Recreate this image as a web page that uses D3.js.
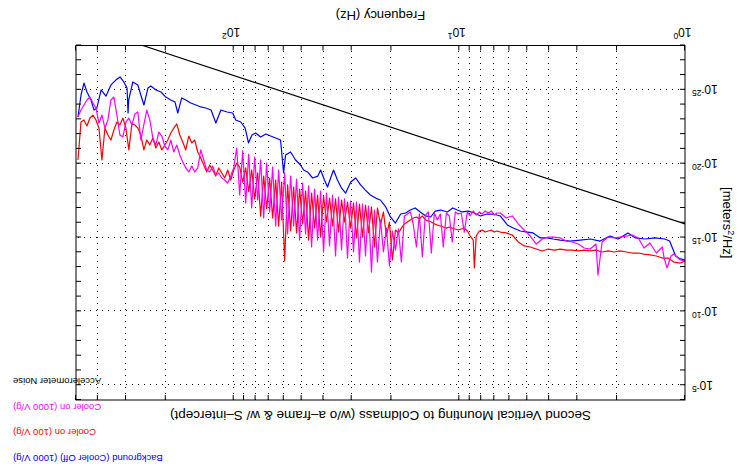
<!DOCTYPE html>
<html>
<head>
<meta charset="utf-8">
<script src="https://cdn.jsdelivr.net/npm/d3@7"></script>
<style>
  body { margin: 0; background: #fff; }
  svg { display: block; font-family: "Liberation Sans", Arial, Helvetica, sans-serif; }
</style>
</head>
<body>
<svg id="chart" width="742" height="470"></svg>
<script>
// values are PSD exponents: PSD = 10^value  [meters^2/Hz]

// Background (Cooler Off) (1000 V/g)
const bgFreq = [490,475,461,447,429,416,404,387,368,350,333,319,307,297,294,292,280,266,258,250,
  240,233,221,210,200,190,182,177,170,163,155,147,140,133,126,120,114,107,101,98,
  93,89,86,83,80,76,72,68.6,65.2,62.0,60.1,58.9,56.0,53.2,50.6,49.0,47.1,44.7,42.4,41.2,
  39.6,38.4,37.2,36.1,34.7,33.3,31.9,30.3,28.8,27.4,26.1,24.8,23.5,22.4,21.2,20.2,19.2,18.2,17.3,16.5,
  15.7,14.9,14.1,13.4,12.8,12.1,11.3,10.7,10.2,9.7,9.12,8.58,8.07,7.52,7.07,6.59,6.13,5.77,5.37,5.00,
  4.71,4.38,4.08,3.84,3.57,3.23,2.91,2.63,2.38,2.15,1.98,1.79,1.66,1.50,1.36,1.23,1.17,1.10,1.05,1.00];
const bgExp = [-23.16,-24.65,-25.46,-24.85,-24.31,-23.63,-23.77,-24.99,-24.58,-25.33,
  -25.66,-25.87,-25.53,-25.12,-23.43,-24.31,-25.53,-25.33,-24.65,-23.97,
  -25.12,-25.26,-24.99,-24.85,-24.51,-24.31,-24.17,-23.43,-24.45,-24.31,
  -24.11,-23.97,-23.84,-23.77,-23.63,-22.75,-23.63,-23.50,-23.43,-22.96,
  -22.82,-22.41,-21.40,-21.94,-22.08,-21.81,-22.01,-21.87,-21.74,-21.60,
  -19.37,-20.59,-20.79,-20.25,-19.91,-19.57,-19.44,-19.03,-19.16,-19.57,
  -18.89,-18.42,-19.03,-19.57,-18.89,-18.35,-18.01,-18.76,-19.03,-18.56,
  -18.21,-17.88,-17.67,-17.54,-17.07,-16.39,-15.98,-16.59,-16.66,-16.86,
  -17.00,-16.73,-16.46,-16.39,-16.79,-16.86,-16.73,-17.00,-16.86,-16.73,
  -16.79,-16.66,-16.46,-16.59,-16.59,-16.46,-15.85,-15.64,-15.44,-15.37,
  -15.31,-14.97,-14.97,-14.90,-14.83,-14.76,-14.83,-14.90,-14.76,-15.10,
  -14.90,-15.31,-14.97,-14.90,-14.97,-14.90,-14.76,-13.75,-13.55,-13.48];

// Cooler on (100 V/g)
const c100Freq = [490.0,475.3,461.0,447.1,433.6,420.6,407.9,395.6,383.7,372.2,361.0,350.1,339.6,329.4,319.5,309.9,
  300.5,291.5,282.7,274.2,266.0,258.0,250.2,242.7,235.4,228.3,221.4,214.7,208.3,202.0,195.9,190.0,184.3,178.8,
  173.4,168.2,163.1,158.2,153.4,148.8,144.3,140.0,135.8,131.7,127.7,123.9,120.2,116.5,113.0,109.6,106.3,103.1,100.0,
  96.99,94.07,91.24,88.49,85.83,83.25,80.74,78.31,75.95,73.67,71.45,69.30,67.21,65.19,63.23,61.33,59.48,57.69,
  55.95,54.27,52.64,51.05,49.52,48.03,46.58,45.18,43.82,42.50,41.22,39.98,38.78,37.61,36.48,35.38,34.32,33.28,
  32.28,31.31,30.37,29.45,28.57,27.71,26.87,26.06,25.28,24.52,23.78,23.07,22.37,21.70,21.05,20.41,19.80,19.20,
  18.63,18.07,17.52,16.99,
  16.48,15.99,15.50,15.04,14.59,14.15,13.72,13.31,12.91,12.52,12.14,11.78,11.42,11.08,10.75,10.42,10.11,9.81,
  9.51,9.22,8.95,8.68,8.58,8.42,8.16,7.92,7.68,7.45,7.22,7.01,6.80,6.59,
  6.20,5.83,5.48,5.16,4.85,4.56,4.29,4.04,3.80,3.57,3.36,3.16,2.97,2.80,2.63,2.48,2.33,2.19,2.06,1.94,
  1.82,1.71,1.61,1.52,1.43,1.34,1.26,1.19,1.12,1.05,1.00];
const c100Exp = [-20.25,-22.82,-22.96,-22.55,-23.09,-23.29,-22.96,-22.41,-20.25,-22.41,
  -21.94,-21.60,-22.28,-22.82,-22.62,-23.09,-22.41,-20.93,-22.69,-22.62,
  -22.41,-21.94,-20.93,-21.60,-21.26,-21.74,-21.06,-21.47,-20.93,-21.26,
  -21.60,-22.08,-22.41,-22.69,-21.94,-21.47,-20.93,-21.87,-21.40,-21.60,
  -20.79,-20.38,-19.91,-19.44,-19.91,-19.57,-19.16,-19.71,-19.37,-19.03,
  -19.57,-18.89,-19.57,
  -20.04,-19.77,-18.75,-19.71,-18.10,-19.57,-17.60,-19.37,-16.45,-19.16,
  -16.95,-19.03,-16.32,-18.89,-15.78,-18.76,-13.41,-18.56,-15.44,-18.42,
  -15.31,-18.28,-15.92,-18.15,-14.83,-18.01,-15.64,-17.88,-15.03,-17.81,
  -16.05,-17.67,-15.78,-17.61,-15.37,-17.54,-16.05,-17.40,-15.64,-17.34,
  -14.97,-17.27,-15.03,-17.20,-15.31,-17.07,-14.36,-17.00,-15.85,-16.73,
  -15.10,-16.05,-13.48,-15.51,-15.31,-15.64,-15.92,-16.05,
  -16.19,-16.32,-16.39,-16.25,-16.46,-16.19,-16.12,-16.05,-15.92,-15.85,
  -15.78,-15.71,-15.64,-15.71,-15.64,-15.58,-15.51,-15.58,-15.64,-15.44,
  -15.10,-14.83,-12.94,-15.10,-15.44,-15.51,-15.37,-15.44,-15.51,-15.37,-15.44,-15.37,
  -15.31,-15.17,-14.70,-14.43,-14.36,-14.22,-14.09,-14.22,-14.15,-14.22,
  -14.15,-14.15,-14.09,-14.15,-14.09,-14.15,-14.02,-14.09,-14.02,-14.09,
  -14.02,-13.95,-13.95,-13.88,-13.82,-13.75,-13.61,-13.61,-13.34,-13.27,-13.41];

// Cooler on (1000 V/g)
const c1000Freq = [490.0,475.3,461.0,447.1,433.6,420.6,407.9,395.6,383.7,372.2,361.0,350.1,339.6,329.4,319.5,309.9,
  300.5,291.5,282.7,274.2,266.0,258.0,250.2,242.7,235.4,228.3,221.4,214.7,208.3,202.0,195.9,190.0,184.3,178.8,
  173.4,168.2,163.1,158.2,153.4,148.8,144.3,140.0,135.8,131.7,127.7,123.9,120.2,116.5,113.0,109.6,106.3,103.1,100.0,
  96.99,94.07,91.24,88.49,85.83,83.25,80.74,78.31,75.95,73.67,71.45,69.30,67.21,65.19,63.23,61.33,59.48,57.69,
  55.95,54.27,52.64,51.05,49.52,48.03,46.58,45.18,43.82,42.50,41.22,39.98,38.78,37.61,36.48,35.38,34.32,33.28,
  32.28,31.31,30.37,29.45,28.57,27.71,26.87,26.06,25.28,24.52,23.78,23.07,22.37,21.70,21.05,20.41,19.80,19.20,
  18.63,18.07,17.52,16.99,
  16.48,15.99,15.50,15.04,14.59,14.15,13.72,13.31,12.91,12.52,12.14,11.78,11.42,11.08,10.75,10.42,10.11,9.81,
  9.51,9.22,8.95,8.68,8.42,8.16,7.92,7.68,7.45,7.22,7.01,6.80,6.59,
  6.20,5.83,5.48,5.16,4.85,4.56,4.29,4.04,3.80,3.57,3.36,3.16,2.97,2.80,2.63,2.48,2.43,
  2.33,2.19,2.06,1.94,1.82,1.71,1.61,1.52,1.43,1.34,1.26,1.238,1.201,1.153,1.12,1.05,1.00];
const c1000Exp = [-23.16,-23.63,-23.97,-24.31,-24.51,-24.11,-23.77,-22.75,-23.29,-22.41,
  -22.96,-24.31,-24.51,-23.29,-21.94,-21.81,-22.82,-23.09,-22.62,-23.36,
  -23.50,-21.60,-22.62,-23.63,-22.96,-21.74,-21.26,-22.14,-21.87,-21.20,
  -20.93,-21.60,-20.79,-21.26,-20.59,-20.11,-19.71,-19.44,-19.84,-19.44,
  -19.71,-20.93,-20.25,-19.57,-19.44,-19.84,-19.23,-19.37,-19.03,-18.89,
  -18.69,-19.16,-19.71,
  -21.06,-17.88,-20.86,-17.34,-20.65,-17.00,-20.45,-17.54,-20.25,-16.32,
  -20.04,-16.73,-19.77,-15.78,-19.57,-16.19,-19.37,-15.24,-19.16,-15.78,
  -18.96,-14.83,-18.69,-15.24,-18.49,-14.36,-18.28,-14.83,-18.15,-14.02,
  -18.01,-14.43,-17.88,-13.75,-17.74,-14.15,-17.61,-13.61,-17.47,-14.02,
  -17.40,-13.34,-17.27,-13.75,-17.13,-12.66,-16.86,-13.34,-16.19,-14.02,
  -15.64,-13.07,-15.44,-14.15,-15.58,-13.34,-16.46,-16.59,
  -16.73,-15.85,-14.36,-16.59,-13.68,-16.52,-16.73,-13.95,-16.66,-16.19,
  -16.59,-14.36,-16.66,-16.46,-14.70,-16.73,-16.59,-16.66,-15.37,-16.73,
  -16.46,-16.80,-16.52,-16.73,-16.59,-16.80,-16.66,-16.80,-16.52,-16.66,-16.66,
  -16.32,-16.46,-15.92,-15.51,-15.10,-14.56,-14.90,-15.03,-15.03,-14.97,
  -14.76,-14.70,-14.56,-14.29,-14.22,-14.56,-12.46,
  -14.70,-15.03,-14.97,-15.03,-15.10,-15.17,-14.97,-14.29,-14.63,-13.95,-14.36,
  -13.61,-12.94,-13.75,-13.88,-13.48,-13.41];

// Accelerometer Noise (straight line in log-log)
const noiseFreq = [1, 253];
const noiseExp = [-15.92, -28.0];

const xTickVals = [1,2,3,4,5,6,7,8,9,10,20,30,40,50,60,70,80,90,100,200,300,400,500];
const xLabelExps = [0, 1, 2];
const yLabelExps = [-25, -20, -15, -10, -5];

const series = [
  {name: "Background (Cooler Off) (1000 V/g)", color: "#0000ff", f: bgFreq, v: bgExp},
  {name: "Cooler on (100 V/g)", color: "#ff0000", f: c100Freq, v: c100Exp},
  {name: "Cooler on (1000 V/g)", color: "#ff00ff", f: c1000Freq, v: c1000Exp},
  {name: "Accelerometer Noise", color: "#000000", f: noiseFreq, v: noiseExp}
];

const plot = {left: 57, right: 666, top: 70, bottom: 424.5};

const x = d3.scaleLog().domain([1, 500]).range([plot.left, plot.right]);
const y = d3.scaleLog().domain([1e-28, 1e-4]).range([plot.bottom, plot.top]);

const svg = d3.select("#chart");
svg.append("defs").append("clipPath").attr("id", "plotClip")
  .append("rect")
    .attr("x", plot.left).attr("y", plot.top)
    .attr("width", plot.right - plot.left).attr("height", plot.bottom - plot.top);

// the whole figure is shown turned upside down
const g = svg.append("g").attr("transform", "rotate(180 371 235)");

// grid
const px = v => Math.round(v) + 0.5;
g.append("g").selectAll("line")
  .data(xTickVals.filter(d => d > 1 && d < 500))
  .join("line")
    .attr("x1", d => px(x(d))).attr("x2", d => px(x(d)))
    .attr("y1", plot.top).attr("y2", plot.bottom)
    .attr("stroke", "#000").attr("stroke-width", 1)
    .attr("stroke-dasharray", "1,5");
g.append("g").selectAll("line")
  .data(yLabelExps)
  .join("line")
    .attr("x1", plot.left).attr("x2", plot.right)
    .attr("y1", d => px(y(10 ** d))).attr("y2", d => px(y(10 ** d)))
    .attr("stroke", "#000").attr("stroke-width", 1)
    .attr("stroke-dasharray", "1,5");

// traces
const line = d3.line().x(d => x(d[0])).y(d => y(10 ** d[1]));
const traces = g.append("g").attr("clip-path", "url(#plotClip)");
series.forEach(s => {
  traces.append("path")
    .datum(s.f.map((f, i) => [f, s.v[i]]))
    .attr("d", line)
    .attr("fill", "none")
    .attr("stroke", s.color)
    .attr("stroke-width", 1.2)
    .attr("stroke-linejoin", "round");
});

// axes (ticks inward on all sides)
const yDecades = d3.range(-28, -3).map(e => 10 ** e);
const noDomain = a => a.select(".domain").remove();
g.append("g").attr("transform", `translate(0,${plot.bottom})`)
  .call(d3.axisBottom(x).tickValues(xTickVals).tickSize(-5).tickFormat("")).call(noDomain);
g.append("g").attr("transform", `translate(0,${plot.top})`)
  .call(d3.axisTop(x).tickValues(xTickVals).tickSize(-5).tickFormat("")).call(noDomain);
g.append("g").attr("transform", `translate(${plot.left},0)`)
  .call(d3.axisLeft(y).tickValues(yDecades).tickSize(-5).tickFormat("")).call(noDomain);
g.append("g").attr("transform", `translate(${plot.right},0)`)
  .call(d3.axisRight(y).tickValues(yDecades).tickSize(-5).tickFormat("")).call(noDomain);

g.append("rect")
  .attr("x", plot.left).attr("y", plot.top)
  .attr("width", plot.right - plot.left).attr("height", plot.bottom - plot.top)
  .attr("fill", "none").attr("stroke", "#000").attr("stroke-width", 1);

// tick labels
xLabelExps.forEach(e => {
  const t = g.append("text")
    .attr("x", x(10 ** e) - 6.5).attr("y", 442)
    .attr("font-size", 12);
  t.append("tspan").text("10");
  t.append("tspan").attr("dy", -5).attr("font-size", 8.5).text(e);
});
yLabelExps.forEach(e => {
  const t = g.append("text")
    .attr("x", 50).attr("y", y(10 ** e) + 4.5)
    .attr("text-anchor", "end")
    .attr("font-size", 12);
  t.append("tspan").text("10");
  t.append("tspan").attr("dy", -5).attr("font-size", 8.5).text(e);
});

// axis titles
g.append("text")
  .attr("x", (plot.left + plot.right) / 2).attr("y", 459)
  .attr("text-anchor", "middle").attr("font-size", 13)
  .text("Frequency (Hz)");

const yl = g.append("text")
  .attr("transform", `translate(19.5,${(plot.top + plot.bottom) / 2}) rotate(-90)`)
  .attr("text-anchor", "middle").attr("font-size", 13);
yl.append("tspan").text("[meters");
yl.append("tspan").attr("dy", -5).attr("font-size", 9).text("2");
yl.append("tspan").attr("dy", 5).text("/Hz]");

g.append("text")
  .attr("x", (plot.left + plot.right) / 2).attr("y", 59)
  .attr("text-anchor", "middle").attr("font-size", 13.5)
  .text("Second Vertical Mounting to Coldmass (w/o a\u2013frame & w/ S\u2013intercept)");

// series names
const nameY = [15.5, 41, 66.5, 92];
series.forEach((s, i) => {
  g.append("text")
    .attr("x", 729).attr("y", nameY[i])
    .attr("text-anchor", "end").attr("font-size", 9.5)
    .attr("fill", s.color)
    .text(s.name);
});
</script>
</body>
</html>
